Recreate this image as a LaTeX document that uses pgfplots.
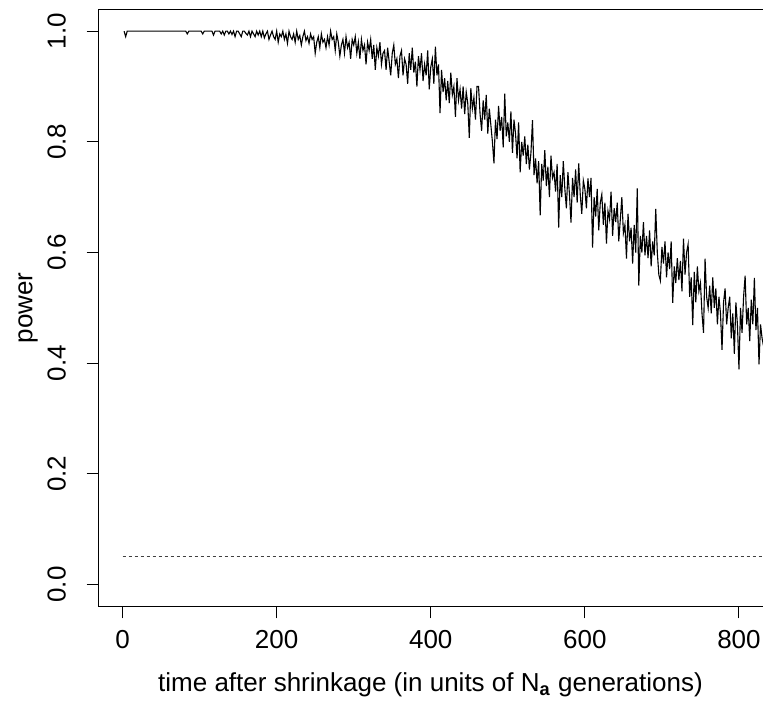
\documentclass[border=0pt]{standalone}
\usepackage{fontspec}
\setmainfont{Liberation Sans}
\usepackage{pgfplots}
\pgfplotsset{compat=1.18}
\begin{document}
\fontsize{13}{15.6}\selectfont
\begin{tikzpicture}
\begin{axis}[
  scale only axis,
  width=334.25pt, height=298.85pt,
  xmin=-31.6, xmax=836, ymin=-0.04, ymax=1.04,
  axis line style={line width=0.5pt},
  every tick/.style={black, line width=0.5pt},
  tick align=outside, major tick length=5.85pt,
  xtick={0,200,400,600,800}, ytick={0,0.2,0.4,0.6,0.8,1.0},
  xtick pos=bottom, ytick pos=left,
  /pgf/number format/assume math mode=true,
  tick label style={font=\fontsize{13}{15.6}\selectfont},
  label style={font=\fontsize{13}{15.6}\selectfont},
  xticklabel style={anchor=base, yshift=-15.2pt},
  yticklabel style={/pgf/number format/fixed, /pgf/number format/fixed zerofill, /pgf/number format/precision=1, xshift=-10.5pt, rotate=90, anchor=base},
  xlabel={time after shrinkage (in units of N\textsubscript{\textbf{a}} generations)},
  ylabel={power},
  xlabel style={at={(axis description cs:0.497,-0.1419)}, anchor=base},
  ylabel style={at={(axis description cs:-0.105,0.5)}, anchor=center, rotate=0},
]
\addplot[black!75, dash pattern=on 1.5pt off 1.5pt, line width=0.5pt] coordinates {(0,0.05) (836,0.05)};
\addplot[black, line width=0.55pt] table[header=false, row sep=\\, x expr=2*\coordindex+2, y index=0] {
1\\0.99\\1\\1\\1\\1\\1\\1\\1\\1\\
1\\1\\1\\1\\1\\1\\1\\1\\1\\1\\
1\\1\\1\\1\\1\\1\\1\\1\\1\\1\\
1\\1\\1\\1\\1\\1\\1\\1\\1\\1\\
1\\0.995\\1\\1\\1\\1\\1\\1\\1\\1\\
1\\0.995\\1\\1\\1\\1\\1\\1\\0.993\\1\\
1\\1\\1\\0.995\\1\\0.993\\1\\1\\0.995\\1\\
0.994\\1\\0.99\\1\\1\\0.995\\0.99\\1\\1\\0.996\\
0.993\\1\\0.99\\1\\0.995\\0.99\\1\\0.993\\1\\0.99\\
1\\0.988\\0.995\\1\\0.985\\0.993\\1\\0.99\\0.985\\1\\
0.98\\0.995\\0.99\\1\\0.985\\0.995\\0.978\\1\\0.99\\0.985\\
0.995\\0.98\\1\\0.985\\0.992\\0.975\\0.99\\1\\0.983\\0.99\\
0.978\\0.995\\0.985\\0.99\\0.96\\0.98\\0.99\\0.97\\0.995\\0.98\\
0.985\\0.97\\0.99\\0.975\\1\\0.985\\0.99\\0.965\\0.995\\0.98\\
0.955\\0.975\\0.985\\0.96\\0.99\\0.97\\0.98\\0.95\\0.985\\0.975\\
0.99\\0.96\\0.98\\0.95\\0.985\\0.965\\0.975\\0.94\\0.98\\0.965\\
0.985\\0.95\\0.975\\0.93\\0.97\\0.955\\0.98\\0.94\\0.96\\0.965\\
0.93\\0.97\\0.945\\0.92\\0.96\\0.975\\0.94\\0.95\\0.915\\0.955\\
0.965\\0.92\\0.95\\0.94\\0.905\\0.96\\0.93\\0.97\\0.925\\0.945\\
0.9\\0.955\\0.93\\0.96\\0.91\\0.94\\0.92\\0.965\\0.895\\0.935\\
0.95\\0.905\\0.972\\0.92\\0.94\\0.852\\0.93\\0.89\\0.915\\0.875\\
0.91\\0.87\\0.925\\0.885\\0.9\\0.845\\0.915\\0.875\\0.895\\0.86\\
0.9\\0.85\\0.89\\0.87\\0.807\\0.897\\0.86\\0.88\\0.84\\0.9\\
0.9\\0.85\\0.82\\0.875\\0.84\\0.885\\0.815\\0.86\\0.83\\0.8\\
0.761\\0.84\\0.805\\0.865\\0.82\\0.845\\0.79\\0.887\\0.81\\0.835\\
0.8\\0.855\\0.78\\0.84\\0.815\\0.77\\0.835\\0.745\\0.8\\0.775\\
0.81\\0.76\\0.795\\0.75\\0.78\\0.839\\0.74\\0.77\\0.725\\0.765\\
0.667\\0.76\\0.73\\0.785\\0.72\\0.755\\0.7\\0.775\\0.735\\0.745\\
0.71\\0.76\\0.645\\0.74\\0.7\\0.765\\0.715\\0.68\\0.745\\0.705\\
0.654\\0.735\\0.7\\0.75\\0.69\\0.761\\0.705\\0.67\\0.73\\0.715\\
0.68\\0.734\\0.7\\0.735\\0.609\\0.7\\0.665\\0.715\\0.64\\0.69\\
0.705\\0.65\\0.69\\0.616\\0.675\\0.66\\0.71\\0.63\\0.68\\0.655\\
0.69\\0.62\\0.66\\0.7\\0.635\\0.65\\0.589\\0.67\\0.62\\0.645\\
0.58\\0.65\\0.6\\0.716\\0.54\\0.63\\0.6\\0.655\\0.595\\0.63\\
0.59\\0.64\\0.575\\0.62\\0.595\\0.679\\0.6\\0.56\\0.549\\0.61\\
0.58\\0.62\\0.555\\0.6\\0.57\\0.62\\0.509\\0.575\\0.545\\0.59\\
0.55\\0.585\\0.53\\0.625\\0.56\\0.6\\0.615\\0.52\\0.555\\0.469\\
0.565\\0.51\\0.575\\0.53\\0.545\\0.49\\0.455\\0.589\\0.52\\0.5\\
0.54\\0.49\\0.555\\0.5\\0.535\\0.47\\0.52\\0.49\\0.424\\0.51\\
0.535\\0.47\\0.5\\0.52\\0.445\\0.49\\0.417\\0.51\\0.47\\0.389\\
0.5\\0.455\\0.52\\0.558\\0.47\\0.5\\0.44\\0.515\\0.47\\0.554\\
0.46\\0.5\\0.398\\0.47\\0.445\\0.43\\0.46\\0.44\\0.45\\0.44\\
};
\coordinate (bbsw) at (axis cs:-159.1,-0.2122);
\coordinate (bbne) at (axis cs:831.2,1.0563);
\end{axis}
\pgfresetboundingbox
\useasboundingbox (bbsw) rectangle (bbne);
\end{tikzpicture}
\end{document}
